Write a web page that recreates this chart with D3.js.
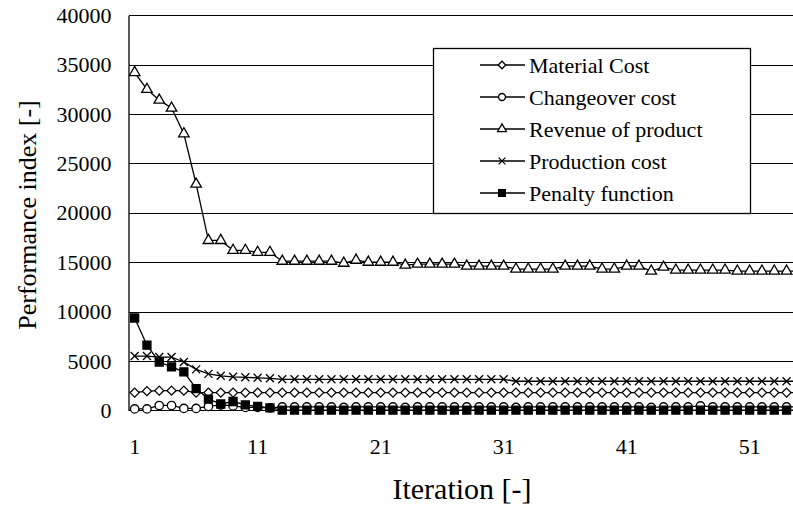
<!DOCTYPE html>
<html>
<head>
<meta charset="utf-8">
<script src="https://cdn.jsdelivr.net/npm/d3@7"></script>
<style>
  body { margin: 0; background: #fff; }
  svg { display: block; }
</style>
</head>
<body>
<div id="chart"></div>
<script>
// Données
const iterations = d3.range(1, 56);
const xTickLabels = [1, 11, 21, 31, 41, 51];
const yTickValues = [0, 5000, 10000, 15000, 20000, 25000, 30000, 35000, 40000];

const materialCost = [1800, 1950, 2000, 2000, 2000, 1800, 1800, 1800, 1800, 1800,
  1800, 1800, 1800, 1800, 1800, 1800, 1800, 1800, 1800, 1800,
  1800, 1800, 1800, 1800, 1800, 1800, 1800, 1800, 1800, 1800,
  1800, 1800, 1800, 1800, 1800, 1800, 1800, 1800, 1800, 1800,
  1800, 1800, 1800, 1800, 1800, 1800, 1800, 1800, 1800, 1800,
  1800, 1800, 1800, 1800, 1800];
const changeoverCost = [150, 150, 500, 500, 200, 200, 400, 550, 450, 300,
  300, 250, 350, 350, 350, 350, 350, 300, 350, 350,
  350, 350, 300, 350, 350, 350, 350, 350, 350, 350,
  350, 300, 350, 350, 350, 350, 350, 350, 350, 350,
  350, 350, 300, 350, 350, 350, 450, 350, 350, 350,
  350, 350, 350, 350, 350];
const revenueOfProduct = [34200, 32500, 31400, 30600, 28000, 22900, 17200, 17200, 16200, 16200,
  16000, 16000, 15100, 15100, 15100, 15100, 15100, 14900, 15200, 15000,
  15000, 15000, 14700, 14800, 14800, 14800, 14800, 14600, 14600, 14600,
  14600, 14300, 14300, 14300, 14300, 14600, 14600, 14600, 14300, 14300,
  14600, 14600, 14100, 14500, 14200, 14200, 14200, 14200, 14200, 14100,
  14100, 14100, 14100, 14100, 14100];
const productionCost = [5500, 5500, 5400, 5400, 4900, 4150, 3700, 3500, 3400, 3350,
  3300, 3250, 3150, 3150, 3150, 3150, 3150, 3150, 3150, 3150,
  3150, 3150, 3150, 3150, 3150, 3150, 3150, 3150, 3150, 3150,
  3150, 2950, 2950, 2950, 2950, 2950, 2950, 2950, 2950, 2950,
  2950, 2950, 2950, 2950, 2950, 2950, 2950, 2950, 2950, 2950,
  2950, 2950, 2950, 2950, 2950];
const penaltyFunction = [9350, 6600, 4900, 4400, 3900, 2200, 1150, 650, 900, 550,
  400, 250, 30, 30, 30, 30, 30, 30, 30, 30,
  30, 30, 30, 30, 30, 30, 30, 30, 30, 30,
  30, 30, 30, 30, 30, 30, 30, 30, 30, 30,
  30, 30, 30, 30, 30, 30, 30, 30, 30, 30,
  30, 30, 30, 30, 30];

const seriesNames = ["Material Cost", "Changeover cost", "Revenue of product", "Production cost", "Penalty function"];
const seriesValues = [materialCost, changeoverCost, revenueOfProduct, productionCost, penaltyFunction];

// Dimensions
const width = 793;
const height = 508;
const plotLeft = 128.5, plotTop = 15.2, plotBottom = 410.4;
const serif = "'Liberation Serif', Tinos, 'Nimbus Roman', 'Nimbus Roman No9 L', FreeSerif, 'DejaVu Serif', 'Noto Serif', 'Times New Roman', Times, serif";

const svg = d3.select("#chart").append("svg")
  .attr("width", width)
  .attr("height", height)
  .attr("font-family", serif);

svg.append("rect").attr("width", width).attr("height", height).attr("fill", "#fff");

// Echelles (catégories de 12.3 px, le graphique est coupé à droite)
const x = d3.scaleBand()
  .domain(d3.range(1, 61))
  .range([plotLeft, plotLeft + 60 * 12.3]);
const xc = i => x(i) + x.bandwidth() / 2;

const y = d3.scaleLinear()
  .domain([0, 40000])
  .range([plotBottom, plotTop]);

// Quadrillage horizontal
svg.append("g")
  .attr("transform", `translate(${plotLeft},0)`)
  .call(d3.axisLeft(y).tickValues(yTickValues).tickSize(-(width - plotLeft)).tickFormat(""))
  .call(g => g.select(".domain").remove())
  .call(g => g.selectAll("line").attr("stroke", "#000").attr("stroke-width", 1).attr("shape-rendering", "crispEdges"));

// Axe Y
svg.append("g")
  .attr("transform", `translate(${plotLeft},0)`)
  .call(d3.axisLeft(y).tickValues(yTickValues).tickSize(0).tickPadding(17).tickFormat(d3.format("d")))
  .attr("font-family", serif)
  .call(g => g.select(".domain").attr("stroke", "#000").attr("stroke-width", 1.3))
  .call(g => g.selectAll("text").attr("fill", "#000").style("font-size", "22px"));

// Axe X (étiquettes seulement)
svg.append("g")
  .attr("transform", `translate(0,${plotBottom})`)
  .call(d3.axisBottom(x).tickValues(xTickLabels).tickSize(0).tickPadding(28))
  .attr("font-family", serif)
  .call(g => g.select(".domain").remove())
  .call(g => g.selectAll("text").attr("fill", "#000").style("font-size", "22px"));

// Titres des axes
svg.append("text")
  .attr("transform", "translate(27,215) rotate(-90)")
  .attr("text-anchor", "middle")
  .attr("dy", "0.35em")
  .style("font-size", "26px")
  .text("Performance index [-]");

svg.append("text")
  .attr("x", 462)
  .attr("y", 488)
  .attr("text-anchor", "middle")
  .attr("dy", "0.35em")
  .style("font-size", "30px")
  .text("Iteration [-]");

// Marqueurs
const diamond = { draw(ctx, size) { const r = Math.sqrt(size) / 2; ctx.moveTo(0, -r); ctx.lineTo(r, 0); ctx.lineTo(0, r); ctx.lineTo(-r, 0); ctx.closePath(); } };
const cross = { draw(ctx, size) { const r = Math.sqrt(size) / 2; ctx.moveTo(-r, -r); ctx.lineTo(r, r); ctx.moveTo(r, -r); ctx.lineTo(-r, r); } };
const markers = [
  { type: diamond, size: 81, fill: "#fff" },
  { type: d3.symbolCircle, size: 55, fill: "#fff" },
  { type: d3.symbolTriangle, size: 48, fill: "#fff" },
  { type: cross, size: 64, fill: "none" },
  { type: d3.symbolSquare, size: 64, fill: "#000" }
];

const line = d3.line().x((d, i) => xc(iterations[i])).y(d => y(d));

seriesValues.forEach(function(vals, s) {
  const g = svg.append("g");
  g.append("path")
    .datum(vals)
    .attr("d", line)
    .attr("fill", "none")
    .attr("stroke", "#000")
    .attr("stroke-width", 1.3);
  g.selectAll("path.m")
    .data(vals)
    .enter()
    .append("path")
    .attr("class", "m")
    .attr("transform", (d, i) => `translate(${xc(iterations[i])},${y(d)})`)
    .attr("d", d3.symbol().type(markers[s].type).size(markers[s].size))
    .attr("fill", markers[s].fill)
    .attr("stroke", "#000")
    .attr("stroke-width", 1.3);
});

// Légende
const legend = svg.append("g");
legend.append("rect")
  .attr("x", 433.5).attr("y", 48.5)
  .attr("width", 317).attr("height", 165)
  .attr("fill", "#fff")
  .attr("stroke", "#000")
  .attr("stroke-width", 1.3);

seriesNames.forEach(function(name, s) {
  const ly = 65 + s * 32;
  legend.append("line")
    .attr("x1", 480).attr("x2", 525)
    .attr("y1", ly).attr("y2", ly)
    .attr("stroke", "#000").attr("stroke-width", 1.3);
  legend.append("path")
    .attr("transform", `translate(502,${ly})`)
    .attr("d", d3.symbol().type(markers[s].type).size(markers[s].size * 0.7))
    .attr("fill", markers[s].fill)
    .attr("stroke", "#000").attr("stroke-width", 1.3);
  legend.append("text")
    .attr("x", 529).attr("y", ly)
    .attr("dy", "0.35em")
    .style("font-size", "22px")
    .text(name);
});
</script>
</body>
</html>
